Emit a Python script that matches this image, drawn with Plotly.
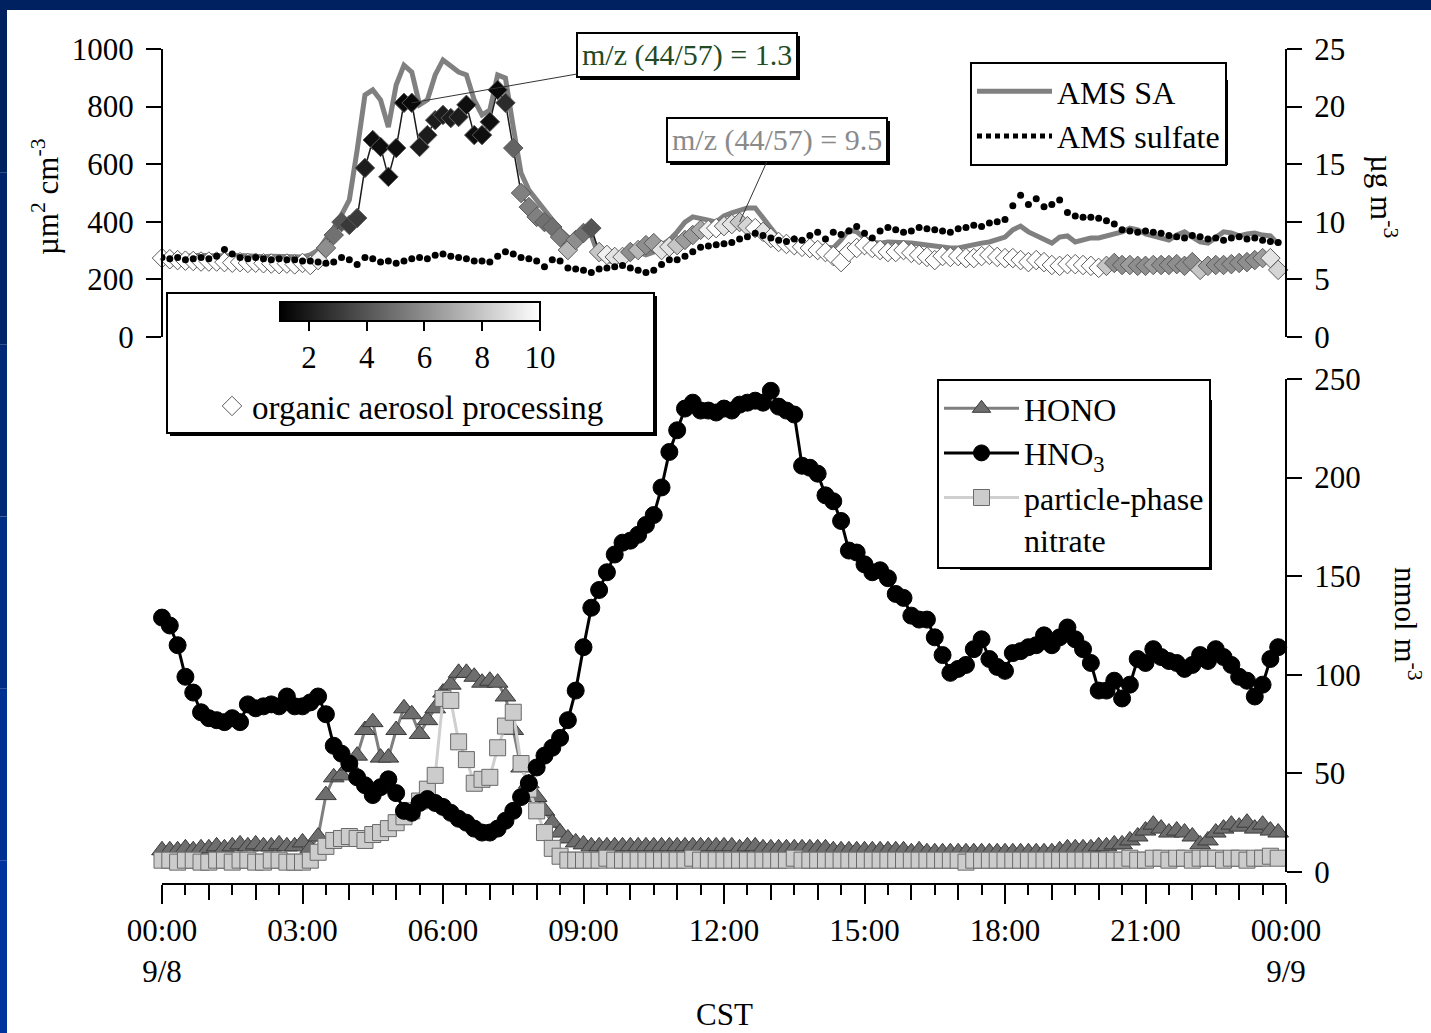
import plotly.graph_objects as go
import pandas as pd

# ---------------- data (10-min resolution, 00:00 9/8 .. 23:50 9/8) ----------------
times = pd.date_range("2006-09-08 00:00", periods=144, freq="10min")

hno3 = [129,125,115,99,91,81, 78,77,76,78,76,85, 83,84,85,84,89,84,
        84,86,89,80,64,60, 55,48,44,39,43,47, 40,31,30,35,37,35,
        33,30,27,25,22,20, 20,22,26,31,38,45, 53,59,63,68,77,92,
        114,134,143,152,161,167, 168,171,176,181,195,213, 224,235,238,234,234,233,
        235,234,237,238,239,238, 244,236,234,232,206,205, 202,191,188,178,163,162,
        156,152,153,149,141,139, 130,128,128,119,110,101, 103,105,113,118,108,104,
        102,111,112,114,115,120, 115,119,124,118,113,106, 92,92,97,88,95,108,
        106,113,109,107,106,103, 105,110,107,113,109,105, 99,97,89,95,108,114]

hono = [11,11,11,12,11,12, 12,13,12,13,14,13, 14,13,13,14,13,13,
        15,12,18,39,48,49, 54,59,72,76,58,58, 72,83,80,70,77,83,
        91,95,101,101,99,96, 97,96,89,72,53,45, 38,31,25,20,17,15,
        14,13,13,13,13,13, 13,13,13,13,13,13, 13,13,13,13,13,13,
        13,13,12,13,13,12, 12,12,12,12,12,12, 12,12,11,11,11,11,
        11,11,11,11,11,11, 10,11,10,10,10,10, 10,10,10,10,10,10,
        10,10,10,10,10,10, 10,11,12,12,12,12, 13,13,14,14,16,18,
        21,24,22,20,21,20, 18,14,16,20,22,24, 23,25,22,24,21,20]

nitrate = [6,6,5,6,6,5, 5,6,6,5,6,6, 5,5,6,6,5,5,
           5,6,10,13,16,17, 18,17,16,19,20,22, 25,28,31,36,42,49,
           88,87,66,57,45,47, 48,63,74,81,55,42, 31,20,12,8,6,6,
           6,6,6,7,6,6, 6,6,6,6,6,6, 6,6,7,6,6,6,
           6,6,6,6,6,6, 6,6,6,7,6,6, 6,6,6,6,6,6,
           6,6,6,6,6,6, 6,6,6,6,6,6, 6,5,6,6,6,6,
           6,6,6,6,6,6, 6,6,6,6,6,6, 6,6,6,6,7,6,
           6,7,7,6,7,7, 6,7,7,7,6,7, 7,6,7,7,8,7]

sa = [280,282,281,280,283,284, 282,281,280,282,283,281, 280,279,280,281,280,279,
      278,285,302,337,378,424, 476,649,840,858,823,729, 875,944,920,806,823,910,
      962,941,920,910,823,771, 788,910,899,729,569,510, 476,441,406,372,347,337,
      351,354,278,267,257,274, 285,295,285,295,319,337, 365,399,417,413,406,399,
      420,431,441,448,448,413, 378,344,330,326,323,319, 316,313,309,337,372,365,
      344,330,326,330,330,330, 326,323,319,316,313,309, 309,316,323,326,330,337,
      347,372,385,365,351,337, 326,347,351,330,337,344, 344,351,358,365,378,372,
      358,351,344,337,354,365, 347,330,326,344,365,361, 351,358,361,354,351,323]

sulfate = [6.9,6.8,6.9,6.7,6.8,6.9, 6.8,7.0,7.6,7.2,6.9,6.8, 6.9,6.8,6.7,6.8,6.7,6.7,
           6.6,6.6,6.5,6.4,6.5,6.9, 6.7,6.3,6.9,6.8,6.5,6.6, 6.4,6.6,6.8,6.9,6.8,7.1,
           7.2,7.0,6.9,6.8,6.6,6.6, 6.5,7.0,7.4,7.2,6.9,6.8, 6.6,6.1,6.7,6.6,6.0,5.9,
           5.8,5.6,5.9,6.0,6.1,6.2, 6.0,5.8,5.6,5.8,6.3,6.7, 6.7,7.0,7.4,7.8,7.9,8.0,
           8.1,8.2,8.5,8.7,9.0,8.8, 8.6,8.4,8.3,8.5,8.4,8.8, 9.1,8.5,9.1,8.9,9.2,9.6,
           9.0,8.6,9.2,9.5,9.3,9.1, 9.2,9.5,9.4,9.3,9.2,9.1, 9.4,9.5,9.7,9.6,9.9,10.0,
           10.2,11.4,12.3,11.5,12.0,11.3, 11.5,11.9,10.8,10.5,10.4,10.4, 10.3,10.1,9.8,9.3,9.2,9.1,
           9.2,9.1,9.0,8.8,8.7,8.6, 8.8,8.7,8.5,8.6,8.4,8.6, 8.7,8.5,8.6,8.4,8.3,8.2]

oa_proc = [274,270,267,265,264,262, 262,262,260,258,260,257, 258,256,255,253,255,252,
           257,250,267,309,354,399, 389,413,587,684,660,556, 656,813,813,660,701,753,
           771,760,764,806,701,701, 747,858,813,656,500,451, 417,399,382,347,302,337,
           361,378,295,285,278,278, 295,302,319,326,302,313, 319,337,354,372,372,378,
           385,392,399,385,378,365, 344,330,323,319,313,309, 302,295,281,260,295,309,
           319,309,302,295,295,302, 292,285,278,267,281,278, 281,274,274,281,285,278,
           274,274,267,260,267,260, 250,247,253,253,250,247, 240,247,257,250,250,247,
           247,250,250,250,253,247, 260,233,247,250,250,253, 257,260,267,274,274,233]

mz_ratio = [10,10,10,10,10,10, 10,10,10,10,10,10, 10,10,10,10,10,10,
            10,10,9.5,6,5,4, 3,3,2,1.5,1.5,1.5, 1.5,1.3,1.3,2,2,2,
            2,2,2,1.5,1.5,1.5, 1.5,1.3,2.5,4.5,5.5,5.5, 5.5,5,5,5.5,7.5,6,
            5,4,8,9.5,9,9, 6,7.5,6,6.5,9,9, 8,6.5,6.5,7,9.5,10,
            9,9,8,8.5,10,9, 9.5,10,10,10,10,10, 10,10,10,10,10,10,
            10,10,10,10,10,10, 10,10,10,10,10,10, 10,10,10,10,10,10,
            10,10,10,10,10,10, 10,10,10,10,10,10, 10,8,6,6,6.5,6,
            6,6.5,6,6,6,6, 6,8,6.5,6,6,6, 6,6,6,6.5,9,8.5]

x_range = ["2006-09-08 00:00", "2006-09-09 00:00"]
major_ticks = pd.date_range("2006-09-08 00:00", periods=9, freq="3h")
major_labels = ["00:00<br>9/8", "03:00", "06:00", "09:00", "12:00", "15:00",
                "18:00", "21:00", "00:00<br>9/9"]
hour_ticks = pd.date_range("2006-09-08 00:00", periods=25, freq="1h")
cbar_ticks = [2, 4, 6, 8, 10]

# ---------------- pixel helpers (layout only) ----------------
W, H = 1431, 1033
L, R, T, B = 162, 1286, 49, 884
def px(xp):
    return (xp - L) / (R - L)
def py(yp):
    return (B - yp) / (B - T)

FONT = "Liberation Serif"
FS = 31
LFS = 32

fig = go.Figure()

# top panel
fig.add_trace(go.Scatter(x=times, y=sulfate, yaxis="y3", mode="markers", showlegend=False,
                         marker=dict(symbol="circle", size=7, color="black", line=dict(width=0)),
                         hoverinfo="x+y"))
fig.add_trace(go.Scatter(x=[None], y=[None], yaxis="y3", mode="lines", name="AMS sulfate",
                         line=dict(color="black", width=5, dash="5px,4px"), legend="legend",
                         legendrank=2))
fig.add_trace(go.Scatter(x=times, y=sa, yaxis="y2", mode="lines", name="AMS SA",
                         line=dict(color="#808080", width=5), legend="legend", legendrank=1))
fig.add_trace(go.Scatter(x=times, y=oa_proc, yaxis="y2", mode="lines", showlegend=False,
                         line=dict(color="#1a1a1a", width=1.5), hoverinfo="skip"))
fig.add_trace(go.Scatter(
    x=times, y=oa_proc, yaxis="y2", mode="markers", name="organic aerosol processing",
    legend="legend3", cliponaxis=False,
    marker=dict(symbol="diamond", size=15, color=mz_ratio, cmin=1, cmax=10,
                colorscale=[[0, "black"], [1, "white"]],
                line=dict(color="#5a5a5a", width=1),
                showscale=True,
                colorbar=dict(orientation="h", x=px(410), xanchor="center",
                              y=py(302), yanchor="top", len=(540 - 280) / (R - L),
                              lenmode="fraction", thickness=19, thicknessmode="pixels",
                              outlinewidth=2, outlinecolor="black",
                              tickvals=cbar_ticks, ticks="outside", ticklen=9,
                              tickwidth=2, tickcolor="black", xpad=0, ypad=0,
                              tickfont=dict(family=FONT, size=FS, color="black")))))

# bottom panel
fig.add_trace(go.Scatter(x=times, y=hono, yaxis="y", mode="lines+markers", name="HONO",
                         legend="legend2", legendrank=1, cliponaxis=False,
                         line=dict(color="#7f7f7f", width=3),
                         marker=dict(symbol="triangle-up", size=18, color="#6e6e6e",
                                     line=dict(color="#3a3a3a", width=1))))
fig.add_trace(go.Scatter(x=times, y=nitrate, yaxis="y", mode="lines+markers",
                         name="particle-phase<br>nitrate", legend="legend2", legendrank=3,
                         cliponaxis=False,
                         line=dict(color="#cfcfcf", width=3),
                         marker=dict(symbol="square", size=16, color="#cccccc",
                                     line=dict(color="#6a6a6a", width=1))))
fig.add_trace(go.Scatter(x=times, y=hno3, yaxis="y", mode="lines+markers", name="HNO<sub>3</sub>",
                         legend="legend2", legendrank=2, cliponaxis=False,
                         line=dict(color="black", width=3),
                         marker=dict(symbol="circle", size=17, color="black",
                                     line=dict(color="black", width=1))))
fig.add_trace(go.Scatter(x=[], y=[], xaxis="x2", yaxis="y", showlegend=False))

tickfont = dict(family=FONT, size=FS, color="black")
common_ax = dict(showgrid=False, zeroline=False, showline=True, linewidth=2, linecolor="black",
                 ticks="outside", tickwidth=2, tickcolor="black", tickfont=tickfont)

fig.update_layout(
    width=W, height=H,
    margin=dict(l=L, r=W - R, t=T, b=H - B, pad=0),
    paper_bgcolor="white", plot_bgcolor="white",
    font=dict(family=FONT, size=FS, color="black"),
    xaxis=dict(type="date", range=x_range, anchor="free", position=0,
               tickvals=major_ticks, ticktext=major_labels, ticklen=19,
               minor=dict(dtick=1800000, ticks="outside", ticklen=10, tickwidth=2,
                          tickcolor="black", showgrid=False),
               **common_ax),
    xaxis2=dict(type="date", range=x_range, overlaying="x", anchor="free", position=0,
                tickvals=hour_ticks, ticks="outside", ticklen=15, tickwidth=2,
                tickcolor="black", showticklabels=False, showline=False, showgrid=False,
                zeroline=False),
    yaxis=dict(domain=[py(872), py(379)], range=[0, 250], side="right", anchor="free",
               position=1, tickvals=[0, 50, 100, 150, 200, 250], ticklen=15,
               ticklabelstandoff=6, **common_ax),
    yaxis2=dict(domain=[py(337), 1], range=[0, 1000], side="left", anchor="free",
                position=0, tickvals=[0, 200, 400, 600, 800, 1000], ticklen=15,
                ticklabelstandoff=6, **common_ax),
    yaxis3=dict(overlaying="y2", range=[0, 25], side="right", anchor="free", position=1,
                tickvals=[0, 5, 10, 15, 20, 25], ticklen=15, ticklabelstandoff=6,
                **common_ax),
    legend=dict(x=px(970), y=py(62), xanchor="left", yanchor="top", bgcolor="white",
                bordercolor="black", borderwidth=2, font=dict(family=FONT, size=LFS),
                itemwidth=75, tracegroupgap=0),
    legend2=dict(x=px(937), y=py(379), xanchor="left", yanchor="top", bgcolor="white",
                 bordercolor="black", borderwidth=2, font=dict(family=FONT, size=LFS),
                 itemwidth=75, valign="top", tracegroupgap=0),
    legend3=dict(x=px(212), y=py(378), xanchor="left", yanchor="top",
                 bgcolor="rgba(0,0,0,0)", borderwidth=0, font=dict(family=FONT, size=33)),
    showlegend=True,
)

# legend box around the colour bar + organic aerosol entry, shadows, and blue slide frame
shapes = [
    dict(type="rect", xref="paper", yref="paper", x0=px(170), x1=px(657), y0=py(436), y1=py(296),
         fillcolor="black", line=dict(width=0), layer="above"),
    dict(type="rect", xref="paper", yref="paper", x0=px(167), x1=px(654), y0=py(433), y1=py(293),
         fillcolor="white", line=dict(color="black", width=2), layer="above"),
    dict(type="rect", xref="paper", yref="paper", x0=px(580), x1=px(800), y0=py(80), y1=py(36),
         fillcolor="black", line=dict(width=0), layer="above"),
    dict(type="rect", xref="paper", yref="paper", x0=px(670), x1=px(890), y0=py(165), y1=py(121),
         fillcolor="black", line=dict(width=0), layer="above"),
    dict(type="rect", xref="paper", yref="paper", x0=px(990), x1=px(1228), y0=py(165), y1=py(80),
         fillcolor="black", line=dict(width=0), layer="above"),
    dict(type="rect", xref="paper", yref="paper", x0=px(960), x1=px(1212), y0=py(570), y1=py(400),
         fillcolor="black", line=dict(width=0), layer="above"),
    dict(type="rect", xref="paper", yref="paper", x0=px(0), x1=px(W), y0=py(10), y1=py(0),
         fillcolor="#00215f", line=dict(width=0), layer="above"),
]
frame_cols = ["#00215f", "#00246a", "#002876", "#002c84", "#003092", "#00339e"]
seg = H / len(frame_cols)
for i, c in enumerate(frame_cols):
    shapes.append(dict(type="rect", xref="paper", yref="paper", x0=px(0), x1=px(7),
                       y0=py((i + 1) * seg), y1=py(i * seg), fillcolor=c, line=dict(width=0),
                       layer="above"))
fig.update_layout(shapes=shapes)

annotations = [
    dict(text="µm<sup>2</sup> cm<sup>-3</sup>", x=px(45), y=py(197), xref="paper", yref="paper",
         xanchor="center", yanchor="middle",
         textangle=-90, showarrow=False, font=dict(family=FONT, size=FS)),
    dict(text="µg m<sup>-3</sup>", x=px(1384), y=py(196), xref="paper", yref="paper",
         xanchor="center", yanchor="middle",
         textangle=90, showarrow=False, font=dict(family=FONT, size=FS)),
    dict(text="nmol m<sup>-3</sup>", x=px(1408), y=py(624), xref="paper", yref="paper",
         xanchor="center", yanchor="middle",
         textangle=90, showarrow=False, font=dict(family=FONT, size=FS)),
    dict(text="CST", x=px(724), y=py(1015), xref="paper", yref="paper",
         xanchor="center", yanchor="middle",
         showarrow=False, font=dict(family=FONT, size=FS)),
    dict(text="m/z (44/57) = 1.3", x=times[32], y=oa_proc[32], xref="x", yref="y2",
         showarrow=True, arrowhead=0, arrowwidth=1, arrowcolor="#333333", ax=275, ay=-48,
         bgcolor="white", bordercolor="black", borderwidth=2, borderpad=4,
         font=dict(family=FONT, size=30, color="#234a23")),
    dict(text="m/z (44/57) = 9.5", x=times[74], y=oa_proc[74], xref="x", yref="y2",
         showarrow=True, arrowhead=0, arrowwidth=1, arrowcolor="#333333", ax=37, ay=-82,
         bgcolor="white", bordercolor="black", borderwidth=2, borderpad=4,
         font=dict(family=FONT, size=30, color="#8a8a8a")),
]
fig.update_layout(annotations=annotations)

fig.write_html("out.html", config={"displayModeBar": False},
               post_script="document.body.style.margin='0px';")
